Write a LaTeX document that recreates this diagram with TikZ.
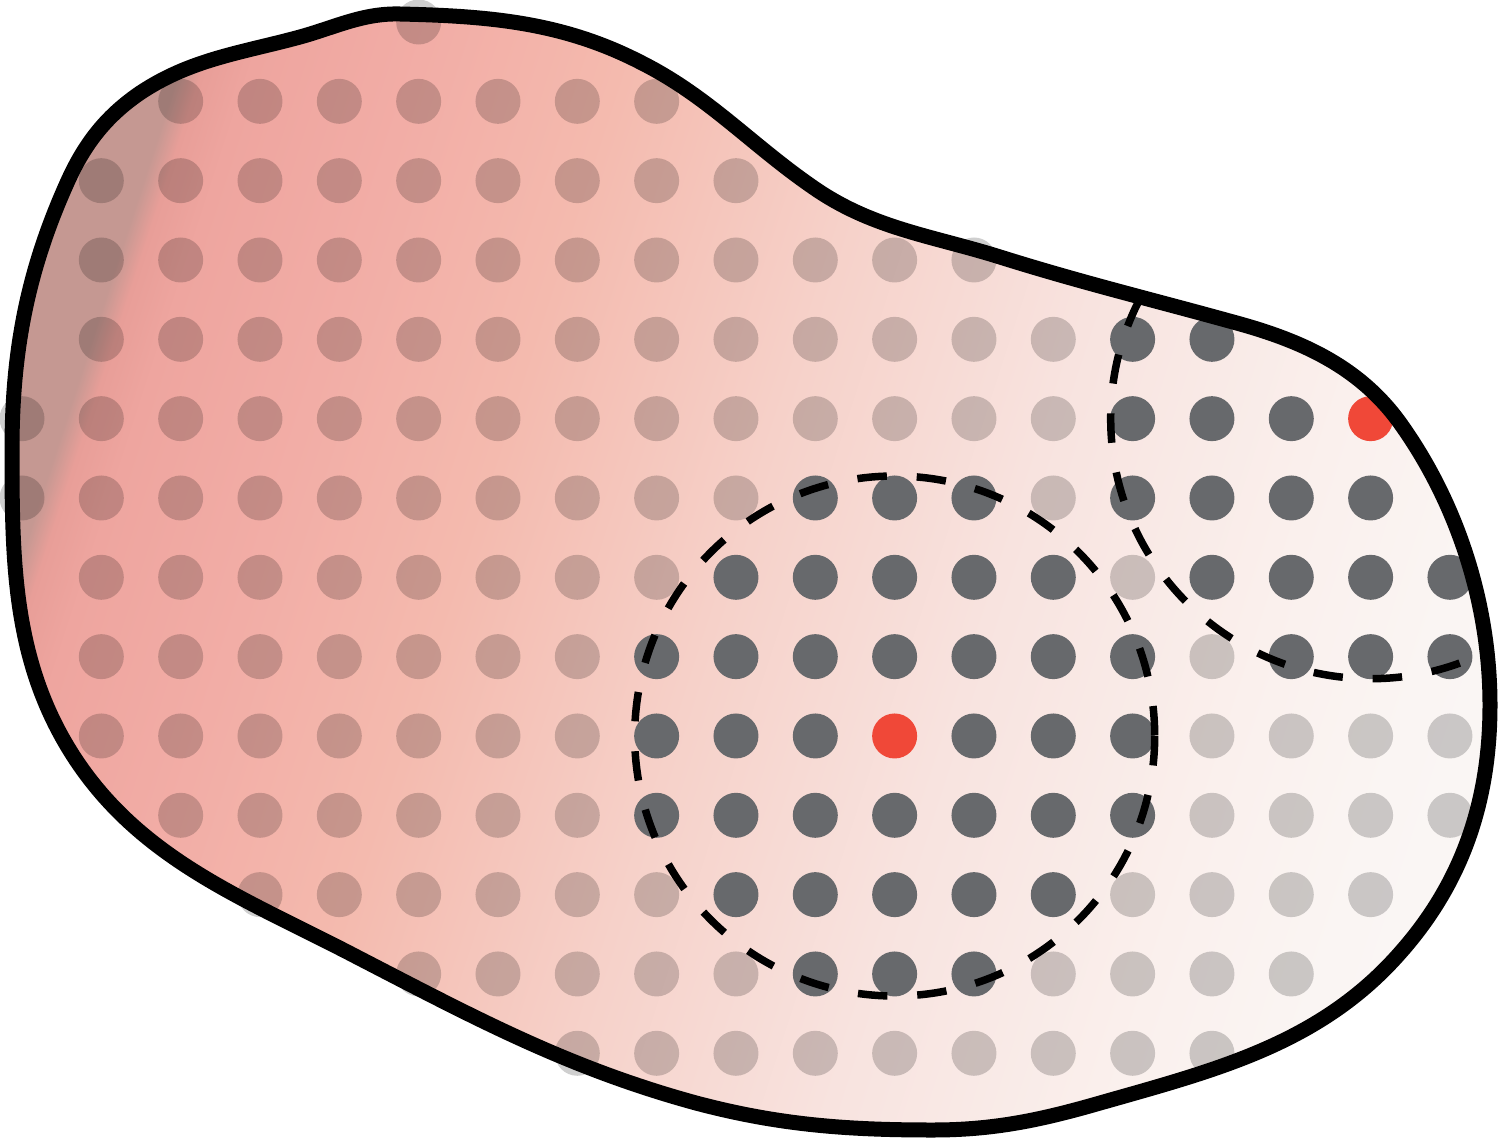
\documentclass[tikz,border=0pt]{standalone}
\definecolor{g0}{RGB}{197,152,146}
\definecolor{g2}{RGB}{232,158,152}
\definecolor{g3}{RGB}{238,165,159}
\definecolor{g4}{RGB}{242,173,166}
\definecolor{g5}{RGB}{244,186,174}
\definecolor{g6}{RGB}{246,209,201}
\definecolor{g7}{RGB}{248,227,223}
\definecolor{g8}{RGB}{250,240,237}
\definecolor{g9}{RGB}{250,245,243}
\definecolor{g10}{RGB}{251,248,247}
\definecolor{dotgrey}{RGB}{103,105,108}
\definecolor{dotred}{RGB}{240,72,56}
\pgfdeclarehorizontalshading{blobshade}{3200pt}{color(0pt)=(g0); color(292pt)=(g0); color(314pt)=(g2); color(360pt)=(g3); color(520pt)=(g4); color(710pt)=(g5); color(970pt)=(g6); color(1230pt)=(g7); color(1500pt)=(g8); color(1660pt)=(g9); color(1900pt)=(g10)}
\begin{document}
\begin{tikzpicture}[x=1pt,y=-1pt,
  outline/.style={line width=15pt, line join=round, draw=black},
  dashcirc/.style={line width=7.5pt, draw=black, dash pattern=on 29.5pt off 29.9pt}]
\useasboundingbox (0,0) rectangle (1500,1143);
\path[save path=\blobp] (400,14)
 .. controls (488,16) and (562,22) .. (640,62)
 .. controls (710,97) and (752,146) .. (817,190)
 .. controls (875,229) and (933,236) .. (1000,257)
 .. controls (1083,283) and (1150,299) .. (1233,322)
 .. controls (1300,340) and (1359,366) .. (1400,423)
 .. controls (1458,504) and (1490,605) .. (1490,705)
 .. controls (1490,800) and (1463,882) .. (1400,953)
 .. controls (1320,1044) and (1216,1070) .. (1100,1103)
 .. controls (1041,1120) and (994,1130) .. (933,1130)
 .. controls (847,1130) and (779,1125) .. (696,1103)
 .. controls (568,1068) and (475,1018) .. (357,957)
 .. controls (248,900) and (144,862) .. (76,760)
 .. controls (13,665) and (12,564) .. (12,450)
 .. controls (12,352) and (27,272) .. (67,183)
 .. controls (84,145) and (105,117) .. (140,93)
 .. controls (191,59) and (241,53) .. (300,37)
 .. controls (336,27) and (363,13) .. cycle;
% gradient fill
\begin{scope}
  \clip[use path=\blobp];
  \begin{scope}[transform canvas={rotate=-18}]
    \node[inner sep=0pt, outer sep=0pt, anchor=west] (grad) at (-100,0) {\pgfuseshading{blobshade}};
  \end{scope}
\end{scope}
% dots
\foreach \r/\a/\b in {0/5/5,1/2/8,2/1/9,3/1/12,4/1/15,5/0/17,6/0/17,7/1/18,8/1/18,9/1/18,10/2/18,11/3/17,12/5/16,13/7/15}{
  \foreach \c in {\a,...,\b}{
    \pgfmathtruncatemacro\da{(\c-11)*(\c-11)+(\r-9)*(\r-9)}
    \pgfmathtruncatemacro\db{(\c-17)*(\c-17)+(\r-5)*(\r-5)}
    \pgfmathsetmacro\px{22+79.33*\c}
    \pgfmathsetmacro\py{22+79.33*\r}
    \def\dc{black}\def\op{0.19}
    \ifnum\da<11 \def\dc{dotgrey}\def\op{1}\fi
    \ifnum\db<11 \def\dc{dotgrey}\def\op{1}\fi
    \ifnum\da=0 \def\dc{dotred}\def\op{1}\fi
    \ifnum\db=0 \def\dc{dotred}\def\op{1}\fi
    \fill[fill=\dc, fill opacity=\op] (\px,\py) circle[radius=22.5];
  }
}
\coordinate (c1) at (894.7,736);
\coordinate (c2) at (1370.7,418.7);
\begin{scope}
  \clip[use path=\blobp];
  \draw[dashcirc] (c1) circle[radius=260];
  \draw[dashcirc, dash phase=38.8pt] (c2) circle[radius=260];
\end{scope}
\draw[outline, use path=\blobp];
\end{tikzpicture}
\end{document}
